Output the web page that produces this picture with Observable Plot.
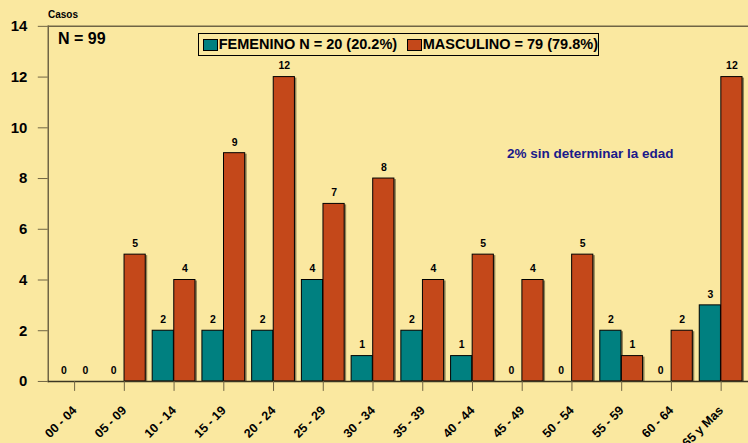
<!DOCTYPE html>
<html><head><meta charset="utf-8">
<script src="https://cdn.jsdelivr.net/npm/d3@7"></script>
<script src="https://cdn.jsdelivr.net/npm/@observablehq/plot@0.6"></script>
<style>
html,body{margin:0;padding:0;background:#FAE8A0;overflow:hidden;}
#wrap{position:relative;width:748px;height:443px;overflow:hidden;font-family:"Liberation Sans",Arial,sans-serif;font-weight:bold;color:#000;}
#wrap svg{position:absolute;left:0;top:0;}
.ov{position:absolute;white-space:nowrap;line-height:1;}
#casos{left:48px;top:10px;font-size:10px;}
#n99{left:58px;top:31px;font-size:16px;}
#nota{left:507px;top:147px;font-size:13.5px;color:#1a1a8a;}
#legend{left:198px;top:33px;width:399px;height:21px;border:1px solid #000;display:flex;align-items:center;font-size:14.5px;}
.sw{display:inline-block;width:13px;height:10px;border:1px solid #000;margin-left:4px;margin-right:1px;}
g[aria-label="y-axis tick"], g[aria-label="x-axis tick"]{stroke:#6f6444;}
g[aria-label="y-axis tick label"]{font-size:15px;font-weight:bold;}
g[aria-label="x-axis tick label"]{font-size:12.5px;font-weight:bold;}
g[aria-label="text"]{font-weight:bold;}
</style></head><body><div id="wrap">
<div class="ov" id="casos">Casos</div>
<div class="ov" id="n99">N = 99</div>
<div class="ov" id="legend"><span class="sw" style="background:#008080"></span>FEMENINO N = 20 (20.2%)<span class="sw" style="background:#C4481A;margin-left:10px"></span>MASCULINO = 79 (79.8%)</div>
<div class="ov" id="nota">2% sin determinar la edad</div>
</div>
<script>
const ages = ["00 - 04","05 - 09","10 - 14","15 - 19","20 - 24","25 - 29","30 - 34","35 - 39","40 - 44","45 - 49","50 - 54","55 - 59","60 - 64","65 y Mas"];
const femenino = [0,0,2,2,2,4,1,2,1,0,0,2,0,3];
const masculino = [0,5,4,9,12,7,8,4,5,4,5,1,2,12];
const yTicks = [0,2,4,6,8,10,12,14];

const W = 752, H = 443, ml = 48, mr = 0, mt = 26, mb = 60;
const pad = 0.137;
const step = (W - ml - mr) / ages.length;
const bw = step * (1 - pad);
const half = bw / 2;

const fem = ages.map((a, i) => ({age: a, casos: femenino[i]}));
const mas = ages.map((a, i) => ({age: a, casos: masculino[i]}));
const olive = "#6f6444";

const chart = Plot.plot({
  width: W, height: H,
  marginLeft: ml, marginRight: mr, marginTop: mt, marginBottom: mb,
  style: {background: "#FAE8A0", fontFamily: "'Liberation Sans', Arial, sans-serif", color: "#000", overflow: "visible"},
  x: {domain: ages, paddingInner: pad, paddingOuter: pad / 2, label: null, axis: null},
  y: {domain: [0, 14], label: null, axis: null},
  marks: [
    Plot.ruleY([14], {stroke: olive, strokeWidth: 1.5}),
    Plot.frame({anchor: "left", stroke: olive, strokeWidth: 1.5}),
    Plot.barY(fem, {x: "age", y: "casos", insetRight: half, fill: "#3a3018", fillOpacity: 0.55, dx: 2, dy: 1}),
    Plot.barY(mas, {x: "age", y: "casos", insetLeft: half, fill: "#3a3018", fillOpacity: 0.55, dx: 2, dy: 1}),
    Plot.barY(fem, {x: "age", y: "casos", insetRight: half, fill: "#008080", stroke: "#000", strokeWidth: 1}),
    Plot.barY(mas, {x: "age", y: "casos", insetLeft: half, fill: "#C4481A", stroke: "#000", strokeWidth: 1}),
    Plot.ruleY([0], {stroke: "#3b3623", strokeWidth: 1.5}),
    Plot.text(fem, {x: "age", y: "casos", text: d => String(d.casos), dx: -half / 2, dy: -11, fontSize: 10.5, fontWeight: "bold", fill: "#000"}),
    Plot.text(mas, {x: "age", y: "casos", text: d => String(d.casos), dx: half / 2, dy: -11, fontSize: 10.5, fontWeight: "bold", fill: "#000"}),
    Plot.axisY({ticks: yTicks, tickSize: 10, tickPadding: 11, fontSize: 15, fontWeight: "bold", label: null}),
    Plot.axisX({tickSize: 10, tickRotate: -45, tickPadding: 17, fontSize: 12.5, fontWeight: "bold", label: null})
  ]
});
document.getElementById("wrap").prepend(chart);
</script>
</body></html>
